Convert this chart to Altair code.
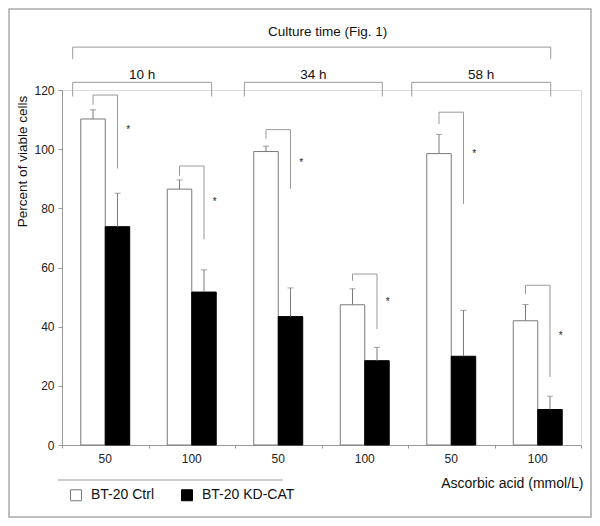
import altair as alt
import pandas as pd

# ---------------- data ----------------
time_groups = ["10 h", "34 h", "58 h"]
conc_labels = ["50", "100", "50", "100", "50", "100"]
series = ["BT-20 Ctrl", "BT-20 KD-CAT"]

ctrl = [110.2, 86.5, 99.2, 47.4, 98.5, 42.0]
ctrl_err = [113.3, 89.6, 101.0, 52.8, 105.0, 47.5]
kd = [73.8, 51.7, 43.4, 28.5, 30.0, 12.0]
kd_err = [85.1, 59.2, 53.1, 33.0, 45.5, 16.5]

sig_top = [118.3, 94.3, 106.6, 57.8, 112.5, 54.0]
sig_left_end = [115.0, 91.0, 103.5, 55.5, 108.5, 51.0]
sig_right_end = [93.5, 69.5, 86.6, 39.2, 81.5, 23.0]
star_y = [107.6, 83.2, 96.5, 49.4, 99.5, 38.0]

time_start = [0.124, 2.108, 4.043]
time_end = [1.730, 3.703, 5.650]
time_top = 122.6
time_leg = 117.8
time_label_y = 125.1
outer_title = "Culture time (Fig. 1)"
outer_top = 134.5
outer_leg = 130.5
outer_label_x = 3.07
outer_label_y = 139.6
label_y = -4.9

BW = 0.283      # bar width in group units
STAR_DX = 0.266  # star offset from pair centre

FONT = "Liberation Sans"
GRAY = "#999999"

# ---------------- tables ----------------
bar_rows, sig_rows, xl_rows = [], [], []
for i in range(6):
    c = i + 0.5
    bar_rows.append(dict(series=series[0], x0=c - BW, x1=c, v=ctrl[i], e=ctrl_err[i], xc=c - BW / 2, base=0))
    bar_rows.append(dict(series=series[1], x0=c, x1=c + BW, v=kd[i], e=kd_err[i], xc=c + BW / 2, base=0))
    sig_rows.append(dict(wc=c - BW / 2, bc=c + BW / 2, top=sig_top[i], lb=sig_left_end[i],
                         rb=sig_right_end[i], sx=c + STAR_DX, sy=star_y[i], star="*"))
    xl_rows.append(dict(x=c, y=label_y, t=conc_labels[i]))
bars_df = pd.DataFrame(bar_rows)
sig_df = pd.DataFrame(sig_rows)
xl_df = pd.DataFrame(xl_rows)

tb_df = pd.DataFrame(dict(s=time_start, e=time_end, top=[time_top] * 3, leg=[time_leg] * 3,
                          lx=[(a + b) / 2 for a, b in zip(time_start, time_end)],
                          ly=[time_label_y] * 3, t=time_groups))
ob_df = pd.DataFrame(dict(s=[time_start[0]], e=[time_end[-1]], top=[outer_top], leg=[outer_leg],
                          lx=[outer_label_x], ly=[outer_label_y], t=[outer_title]))

xs = alt.Scale(domain=[0, 6], nice=False, zero=False)
ys = alt.Scale(domain=[0, 120], nice=False)

# ---------------- layers ----------------
bars = alt.Chart(bars_df).mark_bar(strokeWidth=1).encode(
    x=alt.X("x0:Q", scale=xs, axis=alt.Axis(
        values=[0, 1, 2, 3, 4, 5, 6], labels=False, tickSize=3, tickColor=GRAY,
        domainColor=GRAY, grid=False, title="Ascorbic acid (mmol/L)",
        titleX=521, titleY=38, titleAlign="right", titleBaseline="middle",
        titleFontSize=14, titleFontWeight="normal", titleFont=FONT, titleColor="#111")),
    x2="x1:Q",
    y=alt.Y("v:Q", scale=ys, axis=alt.Axis(
        values=[0, 20, 40, 60, 80, 100, 120], tickSize=4, tickColor=GRAY, domainColor=GRAY,
        grid=False, labelFontSize=12, labelFont=FONT, labelColor="#222", labelPadding=4,
        title="Percent of viable cells", titleX=-40, titleY=71, titleAngle=270,
        titleAlign="center", titleBaseline="middle", titleFontSize=13.5,
        titleFontWeight="normal", titleFont=FONT, titleColor="#111")),
    y2="base:Q",
    fill=alt.Fill("series:N", scale=alt.Scale(domain=series, range=["white", "black"]),
                  legend=alt.Legend(title=None, orient="none", legendX=7, legendY=398,
                                    direction="horizontal", symbolType="square", symbolSize=121,
                                    symbolStrokeColor="#333", symbolStrokeWidth=1,
                                    labelFontSize=14, labelFont=FONT, labelColor="#111",
                                    labelOffset=8, columnPadding=24)),
    stroke=alt.Stroke("series:N", scale=alt.Scale(domain=series, range=["#7a7a7a", "black"]),
                      legend=None),
)

err_rule = alt.Chart(bars_df).mark_rule(color="#7a7a7a", strokeWidth=1).encode(
    x=alt.X("xc:Q", scale=xs), y=alt.Y("v:Q", scale=ys), y2="e:Q")
err_cap = alt.Chart(bars_df).mark_tick(color="#7a7a7a", orient="horizontal", size=6, thickness=1).encode(
    x=alt.X("xc:Q", scale=xs), y=alt.Y("e:Q", scale=ys))

sig_h = alt.Chart(sig_df).mark_rule(color=GRAY, strokeWidth=1).encode(
    x=alt.X("wc:Q", scale=xs), x2="bc:Q", y=alt.Y("top:Q", scale=ys))
sig_l = alt.Chart(sig_df).mark_rule(color=GRAY, strokeWidth=1).encode(
    x=alt.X("wc:Q", scale=xs), y=alt.Y("lb:Q", scale=ys), y2="top:Q")
sig_r = alt.Chart(sig_df).mark_rule(color=GRAY, strokeWidth=1).encode(
    x=alt.X("bc:Q", scale=xs), y=alt.Y("rb:Q", scale=ys), y2="top:Q")
stars = alt.Chart(sig_df).mark_text(font=FONT, fontSize=10, color="#222", baseline="middle", dy=3).encode(
    x=alt.X("sx:Q", scale=xs), y=alt.Y("sy:Q", scale=ys), text="star:N")


def bracket(df):
    h = alt.Chart(df).mark_rule(color=GRAY, strokeWidth=1).encode(
        x=alt.X("s:Q", scale=xs), x2="e:Q", y=alt.Y("top:Q", scale=ys))
    l = alt.Chart(df).mark_rule(color=GRAY, strokeWidth=1).encode(
        x=alt.X("s:Q", scale=xs), y=alt.Y("leg:Q", scale=ys), y2="top:Q")
    r = alt.Chart(df).mark_rule(color=GRAY, strokeWidth=1).encode(
        x=alt.X("e:Q", scale=xs), y=alt.Y("leg:Q", scale=ys), y2="top:Q")
    t = alt.Chart(df).mark_text(font=FONT, fontSize=13.5, color="#111", baseline="middle").encode(
        x=alt.X("lx:Q", scale=xs), y=alt.Y("ly:Q", scale=ys), text="t:N")
    return [h, l, r, t]


xlabels = alt.Chart(xl_df).mark_text(font=FONT, fontSize=12, color="#222", baseline="middle").encode(
    x=alt.X("x:Q", scale=xs), y=alt.Y("y:Q", scale=ys), text="t:N")

deco_df = pd.DataFrame({"k": [0]})
frame = alt.Chart(deco_df).mark_rect(fillOpacity=0, stroke="#aaaaaa", strokeWidth=1.5).encode(
    x=alt.value(-53), x2=alt.value(529), y=alt.value(-81), y2=alt.value(427))
sep = alt.Chart(deco_df).mark_rule(color=GRAY, strokeWidth=1).encode(
    x=alt.value(-4), x2=alt.value(221), y=alt.value(390))

chart = alt.layer(
    frame, sep, bars, err_rule, err_cap, sig_h, sig_l, sig_r, stars,
    *bracket(tb_df), *bracket(ob_df), xlabels,
).properties(
    width=519, height=355,
    autosize=alt.AutoSizeParams(type="none"),
    padding={"left": 54, "top": 82, "right": 11, "bottom": 73},
).configure_view(stroke=None).configure(background="white")

chart.save("out.html", embed_options={"renderer": "svg", "actions": False})
